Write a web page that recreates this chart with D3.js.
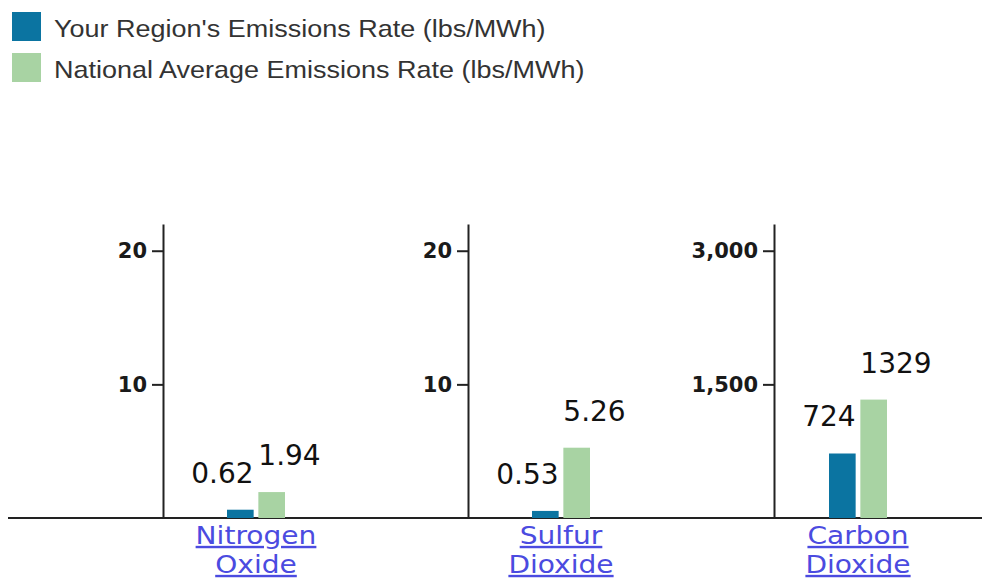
<!DOCTYPE html>
<html>
<head>
<meta charset="utf-8">
<script src="https://cdn.jsdelivr.net/npm/d3@7"></script>
<style>
  html, body { margin: 0; padding: 0; background: #fff; }
  svg { display: block; }
</style>
</head>
<body>
<svg id="chart" width="982" height="578"></svg>
<script>
// ---- data ----
const categories = ["Nitrogen Oxide", "Sulfur Dioxide", "Carbon Dioxide"];
const seriesNames = ["Your Region's Emissions Rate (lbs/MWh)", "National Average Emissions Rate (lbs/MWh)"];
const regionValues = [0.62, 0.53, 724];
const nationalValues = [1.94, 5.26, 1329];
const axisMax = [22, 22, 3300];
const tickValues = [[10, 20], [10, 20], [1500, 3000]];
const tickLabels = [["10", "20"], ["10", "20"], ["1,500", "3,000"]];

// ---- layout / style ----
const colors = ["#0b74a1", "#a8d3a3"];
const W = 982, H = 578;
const baseY = 518, topY = 224;
const panelAxisX = [163, 468, 774];
const panelCenter = [256, 561, 858];
const groupHalf = 29;

const svg = d3.select("#chart");

// legend
const legend = svg.append("g");
seriesNames.forEach((name, i) => {
  const ly = [12, 53][i];
  legend.append("rect").attr("x", 12).attr("y", ly).attr("width", 29).attr("height", 29)
    .attr("fill", colors[i]);
  legend.append("text")
    .attr("transform", `translate(54,${ly + 25}) scale(1.125,1)`)
    .attr("font-family", "'Liberation Sans', Arial, sans-serif")
    .attr("font-size", 24)
    .attr("fill", "#333")
    .text(name);
});

// baseline across panels
svg.append("line").attr("x1", 8).attr("x2", W).attr("y1", baseY).attr("y2", baseY)
  .attr("stroke", "#222").attr("stroke-width", 2);

const seriesValues = [regionValues, nationalValues];

categories.forEach((cat, ci) => {
  const g = svg.append("g");
  const y = d3.scaleLinear().domain([0, axisMax[ci]]).range([baseY, topY]);
  const x = d3.scaleBand().domain(d3.range(seriesNames.length))
    .range([panelCenter[ci] - groupHalf, panelCenter[ci] + groupHalf])
    .paddingInner(0.15).paddingOuter(0);

  // axis
  const axis = d3.axisLeft(y).tickValues(tickValues[ci])
    .tickFormat((d, i) => tickLabels[ci][i])
    .tickSize(11).tickSizeOuter(0).tickPadding(5);
  const ag = g.append("g").attr("transform", `translate(${panelAxisX[ci]},0)`).call(axis);
  ag.select(".domain").attr("stroke", "#222").attr("stroke-width", 2);
  ag.selectAll(".tick line").attr("stroke", "#222").attr("stroke-width", 2);
  ag.selectAll(".tick text")
    .attr("font-family", "'DejaVu Sans', Verdana, sans-serif")
    .attr("font-weight", "bold")
    .attr("font-size", 21)
    .attr("fill", "#1a1a1a");

  // bars
  seriesValues.forEach((vals, si) => {
    const v = vals[ci];
    g.append("rect")
      .attr("x", x(si)).attr("width", x.bandwidth())
      .attr("y", y(v)).attr("height", baseY - y(v))
      .attr("fill", colors[si]);
    g.append("text")
      .attr("x", si === 0 ? x(si) + x.bandwidth() : x(si))
      .attr("y", y(v) - 27)
      .attr("text-anchor", si === 0 ? "end" : "start")
      .attr("font-family", "'DejaVu Sans', Verdana, sans-serif")
      .attr("font-size", 28)
      .attr("fill", "#111")
      .text(String(v));
  });

  // category label (two lines, link style)
  const words = cat.split(" ");
  words.forEach((w, wi) => {
    g.append("text")
      .attr("transform", `translate(${panelCenter[ci]},${544 + wi * 29}) scale(1.17,1)`)
      .attr("text-anchor", "middle")
      .attr("font-family", "'DejaVu Sans', Verdana, sans-serif")
      .attr("font-size", 24)
      .attr("fill", "#4b4be0")
      .attr("text-decoration", "underline")
      .text(w);
  });
});
</script>
</body>
</html>
